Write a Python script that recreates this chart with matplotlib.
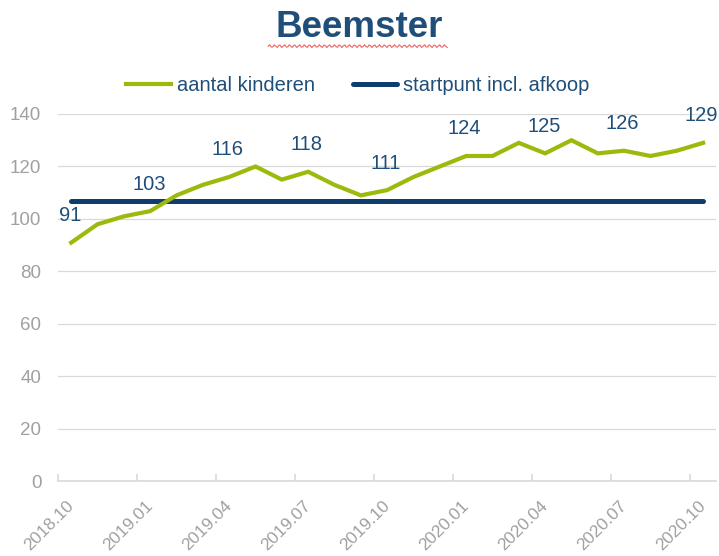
import matplotlib
matplotlib.use('Agg')
import matplotlib.pyplot as plt
import numpy as np

# Data
months = ['2018.10', '2018.11', '2018.12', '2019.01', '2019.02', '2019.03',
          '2019.04', '2019.05', '2019.06', '2019.07', '2019.08', '2019.09',
          '2019.10', '2019.11', '2019.12', '2020.01', '2020.02', '2020.03',
          '2020.04', '2020.05', '2020.06', '2020.07', '2020.08', '2020.09',
          '2020.10']
aantal_kinderen = [91, 98, 101, 103, 109, 113, 116, 120, 115, 118, 113, 109,
                   111, 116, 120, 124, 124, 129, 125, 130, 125, 126, 124, 126,
                   129]
startpunt = [107] * len(months)

GREEN = '#9BBB0C'
NAVY = '#0E3D6E'
LABEL = '#1F4E79'
GRAY = '#A0A0A0'
GRID = '#D9D9D9'

plt.rcParams['font.family'] = ['Liberation Sans', 'DejaVu Sans']

fig = plt.figure(figsize=(7.19, 5.56), dpi=100)
ax = fig.add_axes([0.0807, 0.134, 0.9155, 0.661])

x = np.arange(len(months))
ax.plot(x, aantal_kinderen, color=GREEN, lw=3.0, solid_joinstyle='miter',
        label='aantal kinderen', zorder=3)
ax.plot(x, startpunt, color=NAVY, lw=3.6, solid_capstyle='round',
        label='startpunt incl. afkoop', zorder=2)

# data labels every third month
for i in range(0, len(months), 3):
    ax.annotate(str(aantal_kinderen[i]), (x[i], aantal_kinderen[i]),
                xytext=(-1, 19.5), textcoords='offset points',
                ha='center', va='center', fontsize=14.5, color=LABEL, zorder=4)

ax.set_xlim(-0.5, len(months) - 0.5)
ax.set_ylim(0, 140)
ax.set_yticks(range(0, 141, 20))
ax.yaxis.grid(True, color=GRID, lw=0.9)
ax.set_axisbelow(True)

for side in ['left', 'right', 'top']:
    ax.spines[side].set_visible(False)
ax.spines['bottom'].set_color(GRID)
ax.spines['bottom'].set_linewidth(1.2)

ax.tick_params(axis='y', length=0, pad=12, labelsize=13.5, labelcolor=GRAY)

ax.set_xticks(x[::3])
ax.set_xticklabels(months[::3], rotation=45, ha='right', va='center',
                   rotation_mode='anchor')
ax.tick_params(axis='x', which='major', length=0, pad=16, labelsize=12.5,
               labelcolor=GRAY)
ax.set_xticks(np.arange(-0.5, len(months) - 0.5, 3), minor=True)
ax.tick_params(axis='x', which='minor', direction='in', length=5,
               color=GRID, width=1.2)

# title with the red spell-check squiggle seen in the reference
fig.text(0.5, 0.951, 'Beemster', ha='center', va='center', fontsize=26.5,
         fontweight='bold', color=LABEL)
wx = np.linspace(0.373, 0.622, 120)
wy = 0.917 + 0.0025 * np.sin((wx - wx[0]) * 719 / 5.0 * 2 * np.pi)
fig.add_artist(plt.Line2D(wx, wy, color='#F07070', lw=0.9))

leg = fig.legend(loc='center', bbox_to_anchor=(0.498, 0.847), ncol=2,
                 frameon=False, fontsize=14.5, handlelength=2.2,
                 handletextpad=0.3, columnspacing=1.9)
for t in leg.get_texts():
    t.set_color(LABEL)

fig.savefig('out.png', dpi=100)
